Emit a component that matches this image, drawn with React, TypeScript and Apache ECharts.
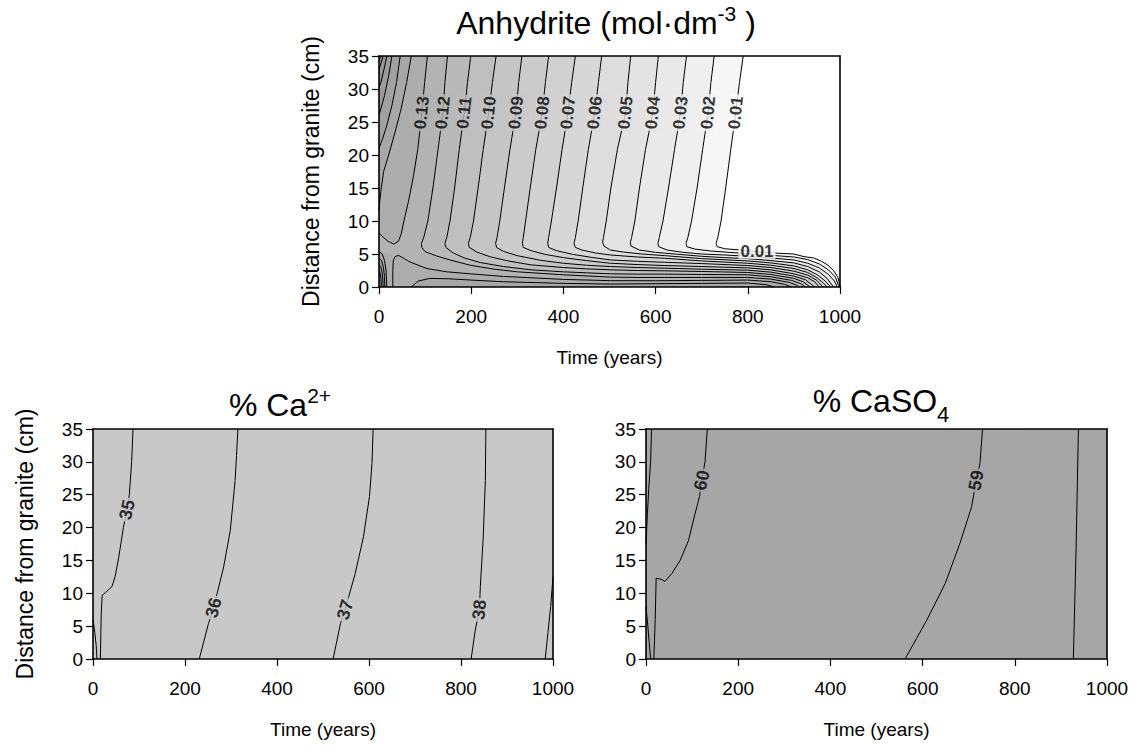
import React, { useEffect, useRef } from "react";
import * as echarts from "echarts";

const FONT = "'Liberation Sans', Arial, Helvetica, sans-serif";

// ---------- Anhydrite (mol/dm3): contour lines as [time (years), distance (cm)] ----------
const anh001 = [[790,35],[782,31],[774,26.4],[763,20.8],[752,15],[742,10],[735,7.5],[731,6.6],[734,6.1],[750,5.8],[785,5.6],[820,5.35],[856,5.15],[900,5.0],[922,4.6],[943,4.4],[960,3.9],[974,3.3],[986,2.5],[996,1.4],[1000,0]];
const anh002 = [[727,35],[720,31],[714,26.4],[702,20.8],[690,15],[678,10],[670,7.5],[666,6.6],[668,6.1],[685,5.75],[720,5.45],[760,5.25],[800,5.05],[850,4.8],[900,4.55],[930,4.15],[955,3.5],[975,2.6],[990,1.5],[998,0]];
const anh003 = [[667,35],[660,31],[654,26.4],[641,20.8],[628,15],[616,10],[608,7.5],[605,6.6],[607,6.1],[625,5.6],[660,5.25],[700,5.0],[750,4.85],[800,4.65],[850,4.4],[900,4.1],[930,3.6],[955,2.9],[975,1.9],[988,0.9],[994,0]];
const anh004 = [[606,35],[600,31],[594,26.4],[578,20.8],[565,15],[555,10],[548,7.5],[545,6.7],[547,6.2],[565,5.6],[600,5.25],[650,4.95],[700,4.65],[750,4.45],[800,4.3],[850,4.0],[900,3.65],[930,3.1],[955,2.3],[972,1.3],[986,0]];
const anh005 = [[546,35],[540,31],[535,26.4],[517,20.8],[503,15],[493,10],[487,7.5],[485,6.8],[488,6.2],[502,5.6],[530,5.3],[570,5.0],[620,4.75],[700,4.3],[800,3.95],[850,3.65],[900,3.2],[930,2.6],[952,1.8],[968,0.9],[980,0]];
const anh006 = [[483,35],[476,31],[468,26.4],[454,20.8],[442,15],[432,10],[426,7.5],[423,6.6],[426,6.0],[440,5.6],[470,5.15],[502,4.85],[560,4.55],[620,4.35],[700,3.95],[800,3.6],[850,3.3],[900,2.8],[930,2.2],[950,1.4],[964,0.6],[972,0]];
const anh007 = [[426,35],[418,31],[410,26.4],[397,20.8],[385,15],[374,10],[368,7.5],[366,6.6],[368,6.0],[385,5.5],[420,4.95],[460,4.5],[502,4.1],[560,3.9],[620,3.75],[700,3.55],[800,3.25],[850,2.95],[900,2.4],[930,1.8],[950,1.0],[963,0]];
const anh008 = [[368,35],[361,31],[354,26.4],[340,20.8],[328,15],[318,10],[313,7.5],[311,6.6],[313,6.0],[330,5.5],[360,4.95],[400,4.45],[450,4.0],[502,3.6],[560,3.4],[620,3.25],[700,3.1],[800,2.9],[850,2.6],[900,2.0],[930,1.4],[945,0.8],[955,0]];
const anh009 = [[310,35],[303,31],[297,26.4],[284,20.8],[272,15],[262,10],[256,7.5],[253,6.6],[255,6.0],[270,5.4],[300,4.75],[350,4.05],[400,3.6],[450,3.3],[502,3.1],[560,2.95],[620,2.85],[700,2.7],[800,2.55],[850,2.25],[900,1.65],[925,1.1],[945,0]];
const anh010 = [[254,35],[246,31],[238,26.4],[226,20.8],[215,15],[205,10],[198,7.5],[194,6.6],[196,6.0],[212,5.3],[240,4.6],[280,3.95],[330,3.35],[400,2.95],[450,2.75],[502,2.6],[560,2.5],[620,2.45],[700,2.35],[800,2.2],[850,1.9],[900,1.3],[920,0.8],[935,0]];
const anh011 = [[199,35],[192,31],[185,26.4],[174,20.8],[164,15],[154,10],[147,7.5],[143,6.6],[145,6.0],[160,5.2],[185,4.4],[220,3.7],[270,3.1],[330,2.6],[400,2.3],[450,2.15],[502,2.0],[560,1.95],[620,1.95],[700,1.9],[800,1.85],[850,1.55],[895,1.0],[915,0.5],[925,0]];
const anh012 = [[148.5,35],[143,31],[138.5,26.4],[128,20.8],[117,15],[106,10],[97,7.5],[92,6.6],[93,6.0],[100,5.35],[125,4.7],[154,4.1],[198,3.3],[250,2.7],[300,2.3],[400,1.85],[502,1.5],[560,1.45],[620,1.45],[700,1.45],[800,1.45],[850,1.2],[890,0.7],[905,0.3],[912,0]];
// 0.13 splits at the saddle near the granite contact
const anh013Upper = [[105,35],[99,31],[93,26.4],[84,20.8],[74,16.5],[64,13],[54,10],[48,8.0],[42,6.9],[32,6.5],[20,6.9],[8,7.6],[0,8.2]];
const anh013Lower = [[30,0],[30,2.5],[31,4.0],[35,4.6],[42,4.8],[55,4.3],[67,3.8],[85,3.3],[104,2.8],[147,2.3],[198,2.0],[270,1.6],[330,1.4],[400,1.15],[502,0.96],[600,0.95],[700,1.0],[800,1.05],[850,0.8],[880,0.4],[895,0]];
const anh014Lane = [[70,0],[85,0.9],[110,1.3],[150,1.25],[200,1.05],[270,0.8],[400,0.55],[502,0.45],[600,0.5],[700,0.55],[800,0.6],[840,0.35],[858,0]];
// dark strip at early times, closing on the granite side
const anh014Strip = [[70,35],[60,31],[48,27],[35,23.5],[21,20],[10,17.5],[4,14.5],[1,12.5],[0,11.5]];
const anh015Strip = [[46,35],[38,31],[28,27.5],[17,24.5],[8,22.5],[0,21]];
const anh016Strip = [[28,35],[21,32],[12,29],[4,27],[0,26]];
const anh017Strip = [[17,35],[11,33],[4,31],[0,30.2]];
const anh018Strip = [[9,35],[4,33.8],[0,33]];
const anh019Strip = [[4,35],[0,34.3]];
// closed loops around the bottom-left corner
const anh014Corner = [[0,5.4],[7,5.0],[12,4.0],[15.5,2.4],[17,0]];
const anh015Corner = [[0,4.4],[5.5,4.0],[9.5,3.0],[12,1.6],[12.5,0]];
const anh016Corner = [[0,3.4],[4,3.0],[7,2.1],[8.5,1.0],[8.8,0]];
const anh017Corner = [[0,2.4],[2.5,2.1],[4.3,1.3],[5,0]];

// labels for 0.01 … 0.13
const anhLabelText = ["0.01","0.02","0.03","0.04","0.05","0.06","0.07","0.08","0.09","0.10","0.11","0.12","0.13"];
const anhLabelX = [774, 714, 654, 594, 535, 468, 410, 354, 297, 238, 185, 138.5, 93];
const anhLabelY = 26.4;
const anhLowLabel = { text: "0.01", x: 820, y: 5.35 };

// grey of each 0.01-wide band, index = lower bound / 0.01
const anhBandGrays = ["#ffffff","#f6f6f6","#efefef","#e9e9e9","#e3e3e3","#dddddd","#d7d7d7","#d1d1d1","#cbcbcb","#c5c5c5","#bfbfbf","#b9b9b9","#b3b3b3","#adadad","#a7a7a7","#a1a1a1","#9b9b9b","#959595","#8f8f8f","#898989"];

// ---------- % Ca2+ ----------
const ca35 = [[87,35],[84,30],[79,25],[74,22.7],[66,20],[56,15.5],[48,12.5],[41,11],[30,10.3],[20,9.7],[18,7],[16,0]];
const ca35Edge = [[0,6],[4,4],[7,2],[8.6,0]];
const ca36 = [[315,35],[312,31],[309,27.2],[298.5,19.6],[284,14],[270,10],[262,7.8],[251,5.4],[231,0]];
const ca37 = [[609,35],[606.5,29.8],[601,24.7],[588,18.6],[570,13],[556,9.5],[548,7.5],[538,5.4],[522,0]];
const ca38 = [[854,35],[853,27.2],[848,18.1],[842,11],[840,7.5],[831,4.4],[822,0]];
const ca39 = [[1000,12.5],[995,8],[989,4],[983,0]];
const caLabels = [
  { text: "35", x: 74, y: 22.7, rotate: 78 },
  { text: "36", x: 262, y: 7.8, rotate: 75 },
  { text: "37", x: 548, y: 7.5, rotate: 73 },
  { text: "38", x: 840, y: 7.5, rotate: 84 },
];

// ---------- % CaSO4 ----------
const cs60 = [[133,35],[128,30],[121,27.2],[116,24.7],[106,22],[92,18],[74,15],[56,13],[41,11.8],[34,12.1],[22,12.3],[20,6],[17,0]];
const cs61Top = [[12,35],[10,30],[6,26],[3,22],[0,17.5]];
const cs61Bottom = [[0,8],[4,5],[7,2.5],[10,0]];
const cs59 = [[730,35],[724.5,29.8],[716,27.2],[706.5,23.2],[681,17.6],[649,11.5],[609,5.9],[562,0]];
const cs58 = [[938,35],[933,17],[927,0]];
const csLabels = [
  { text: "60", x: 121, y: 27.2, rotate: 78 },
  { text: "59", x: 716, y: 27.2, rotate: 80 },
];

const CA_FILL = "#c8c8c8";
const CASO4_FILL = "#a6a6a6";

const GRIDS = [
  { left: 379, top: 56, width: 461, height: 231 },
  { left: 93, top: 429, width: 460, height: 230 },
  { left: 646, top: 429, width: 461, height: 230 },
];

function mixGray(a: string, b: string) {
  const va = parseInt(a.slice(1, 3), 16);
  const vb = parseInt(b.slice(1, 3), 16);
  const h = Math.round((va + vb) / 2).toString(16).padStart(2, "0");
  return "#" + h + h + h;
}

type Poly = { pts: number[][]; fill: string };

function fillSeries(idx: number, polys: Poly[]) {
  return {
    type: "custom",
    xAxisIndex: idx,
    yAxisIndex: idx,
    coordinateSystem: "cartesian2d",
    silent: true,
    z: 1,
    clip: true,
    data: [[0, 0]],
    renderItem: (_p: any, api: any) => ({
      type: "group",
      children: polys.map((p) => ({
        type: "polygon",
        shape: { points: p.pts.map((q) => api.coord(q)) },
        style: { fill: p.fill, stroke: p.fill, lineWidth: 0.6 },
      })),
    }),
  };
}

function lineSeries(idx: number, pts: number[][]) {
  return {
    type: "line",
    xAxisIndex: idx,
    yAxisIndex: idx,
    data: pts,
    symbol: "none",
    silent: true,
    z: 3,
    lineStyle: { color: "#000", width: 1 },
  };
}

function labelSeries(
  idx: number,
  labels: { text: string; x: number; y: number; rotate: number; bg: string }[],
  fontSize: number
) {
  return {
    type: "scatter",
    xAxisIndex: idx,
    yAxisIndex: idx,
    symbolSize: 1,
    silent: true,
    z: 5,
    itemStyle: { color: "rgba(0,0,0,0)" },
    data: labels.map((l) => ({
      value: [l.x, l.y],
      label: {
        show: true,
        position: "inside",
        formatter: l.text,
        rotate: l.rotate,
        backgroundColor: l.bg,
        padding: [0, 2],
        lineHeight: Math.round(fontSize * 0.85),
        color: "#000",
        fontSize,
        fontWeight: "bold",
        fontFamily: FONT,
      },
    })),
  };
}

function buildOption() {
  const anhLevels = [anh001, anh002, anh003, anh004, anh005, anh006, anh007, anh008, anh009, anh010, anh011, anh012];
  const strips = [anh014Strip, anh015Strip, anh016Strip, anh017Strip, anh018Strip, anh019Strip];
  const corners = [anh014Corner, anh015Corner, anh016Corner, anh017Corner];

  const anhPolys: Poly[] = [
    { pts: [[0, 0], [1000, 0], [1000, 35], [0, 35]], fill: anhBandGrays[13] },
    ...strips.map((s, i) => ({ pts: [...s, [0, 35]], fill: anhBandGrays[14 + i] })),
    ...corners.map((c, i) => ({ pts: [...c, [0, 0]], fill: anhBandGrays[14 + i] })),
    { pts: anh014Lane, fill: anhBandGrays[14] },
    { pts: [...anh013Upper, [0, 5.6], ...anh013Lower.slice(3), [1000, 0], [1000, 35]], fill: anhBandGrays[12] },
    ...anhLevels
      .map((c, i) => ({ pts: [...c, [1000, 0], [1000, 35]], fill: anhBandGrays[i] }))
      .reverse(),
  ];

  const anhLabels = anhLabelText.map((t, i) => ({
    text: t,
    x: anhLabelX[i],
    y: anhLabelY,
    rotate: 84,
    bg: mixGray(anhBandGrays[i], anhBandGrays[i + 1]),
  }));
  anhLabels.push({
    text: anhLowLabel.text,
    x: anhLowLabel.x,
    y: anhLowLabel.y,
    rotate: 0,
    bg: mixGray(anhBandGrays[0], anhBandGrays[1]),
  });

  const tickText = { color: "#000", fontSize: 19, fontFamily: FONT };
  const xNameText = { color: "#000", fontSize: 19, fontFamily: FONT };
  const yNameText = { color: "#000", fontSize: 23, fontFamily: FONT };
  const frameLine = { show: true, onZero: false, lineStyle: { color: "#000", width: 1.6 } };

  const xAxes: any[] = [];
  const yAxes: any[] = [];
  GRIDS.forEach((_, i) => {
    xAxes.push({
      type: "value",
      gridIndex: i,
      min: 0,
      max: 1000,
      interval: 200,
      z: 10,
      name: "Time (years)",
      nameLocation: "middle",
      nameGap: 61,
      nameTextStyle: xNameText,
      axisLine: frameLine,
      axisTick: { show: true, length: 7, lineStyle: { color: "#000", width: 1.2 } },
      axisLabel: { ...tickText, margin: 20, formatter: (v: number) => String(v) },
      splitLine: { show: false },
    });
    yAxes.push({
      type: "value",
      gridIndex: i,
      min: 0,
      max: 35,
      interval: 5,
      z: 10,
      name: i === 2 ? "" : "Distance from granite (cm)",
      nameLocation: "middle",
      nameGap: 57,
      nameTextStyle: yNameText,
      axisLine: frameLine,
      axisTick: { show: true, length: 7, lineStyle: { color: "#000", width: 1.2 } },
      axisLabel: { ...tickText, margin: 10, formatter: (v: number) => String(v) },
      splitLine: { show: false },
    });
  });
  GRIDS.forEach((_, i) => {
    xAxes.push({
      type: "value", gridIndex: i, min: 0, max: 1000, position: "top", z: 10,
      axisLine: frameLine, axisTick: { show: false }, axisLabel: { show: false }, splitLine: { show: false },
    });
    yAxes.push({
      type: "value", gridIndex: i, min: 0, max: 35, position: "right", z: 10,
      axisLine: frameLine, axisTick: { show: false }, axisLabel: { show: false }, splitLine: { show: false },
    });
  });

  const series: any[] = [
    fillSeries(0, anhPolys),
    ...[...anhLevels, anh013Upper, anh013Lower, anh014Lane, ...strips, ...corners].map((c) => lineSeries(0, c)),
    labelSeries(0, anhLabels, 17),
    ...[ca35, ca35Edge, ca36, ca37, ca38, ca39].map((c) => lineSeries(1, c)),
    labelSeries(1, caLabels.map((l) => ({ ...l, bg: CA_FILL })), 18),
    ...[cs60, cs61Top, cs61Bottom, cs59, cs58].map((c) => lineSeries(2, c)),
    labelSeries(2, csLabels.map((l) => ({ ...l, bg: CASO4_FILL })), 18),
  ];

  const titleRich = {
    m: { fontSize: 32, fontFamily: FONT, fill: "#000" },
    sup: { fontSize: 21, fontFamily: FONT, fill: "#000", padding: [0, 0, 20, 0] },
    sub: { fontSize: 22, fontFamily: FONT, fill: "#000", padding: [26, 0, 0, 0] },
  };

  return {
    animation: false,
    backgroundColor: "#ffffff",
    grid: GRIDS.map((g, i) => ({
      ...g,
      containLabel: false,
      show: i > 0,
      backgroundColor: i === 1 ? CA_FILL : i === 2 ? CASO4_FILL : "transparent",
      borderWidth: 0,
    })),
    xAxis: xAxes,
    yAxis: yAxes,
    series,
    graphic: [
      {
        type: "text",
        x: 606,
        y: 23,
        style: { text: "{m|Anhydrite (mol·dm}{sup|-3}{m| )}", rich: titleRich, align: "center", verticalAlign: "middle" },
      },
      {
        type: "text",
        x: 280,
        y: 405,
        style: { text: "{m|% Ca}{sup|2+}", rich: titleRich, align: "center", verticalAlign: "middle" },
      },
      {
        type: "text",
        x: 881,
        y: 401,
        style: { text: "{m|% CaSO}{sub|4}", rich: titleRich, align: "center", verticalAlign: "middle" },
      },
    ],
  };
}

export default function App() {
  const ref = useRef<HTMLDivElement>(null);
  useEffect(() => {
    document.body.style.margin = "0";
    const chart = echarts.init(ref.current!, null, { renderer: "svg" });
    chart.setOption(buildOption() as any);
    return () => chart.dispose();
  }, []);
  return <div ref={ref} style={{ width: 1143, height: 751 }} />;
}
